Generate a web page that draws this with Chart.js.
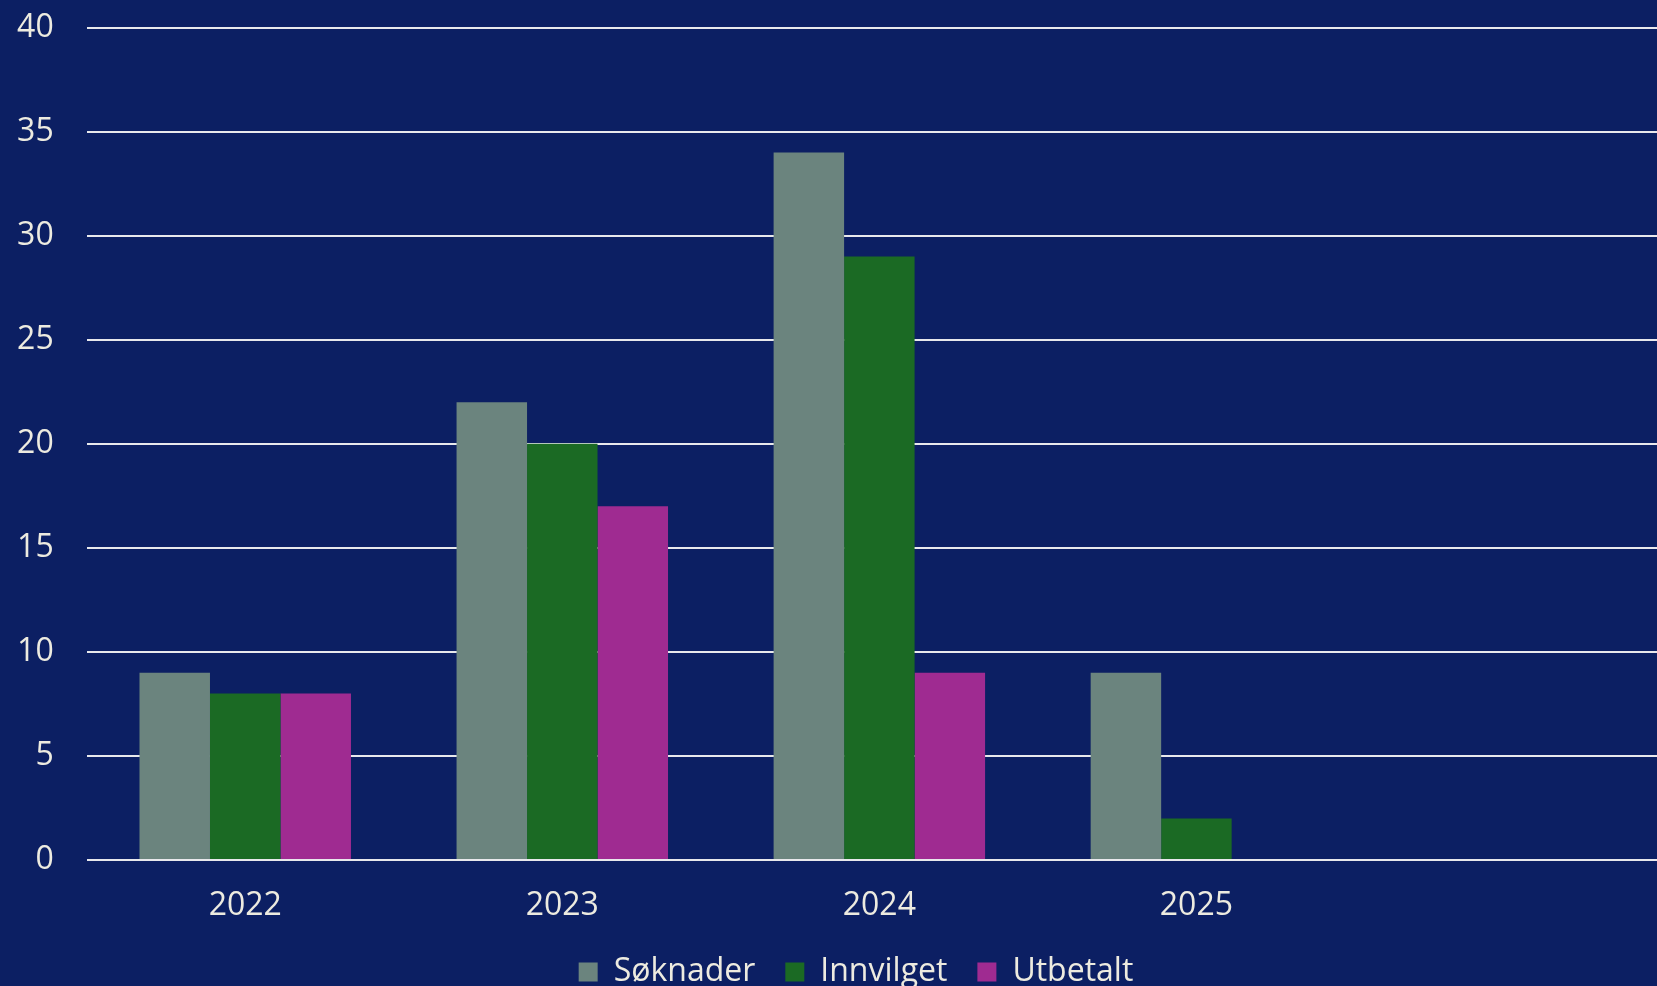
<!DOCTYPE html>
<html>
<head>
<meta charset="utf-8">
<script src="https://cdn.jsdelivr.net/npm/chart.js@4/dist/chart.umd.min.js"></script>
<style>
  html, body { margin: 0; padding: 0; background: #0c1f63; overflow: hidden; }
  #wrap { width: 1712px; height: 998px; }
</style>
</head>
<body>
<div id="wrap"><canvas id="mainChart" width="1712" height="998"></canvas></div>
<script>
// Data
const years = ["2022", "2023", "2024", "2025", ""];
const soknader = [9, 22, 34, 9, null];
const innvilget = [8, 20, 29, 2, null];
const utbetalt = [8, 17, 9, null, null];
const seriesNames = ["Søknader", "Innvilget", "Utbetalt"];

const colors = {
    bg: "#0c1f63",
    gray: "#6b847e",
    green: "#1b6a24",
    magenta: "#9f2b91",
    text: "#edebe0",
    grid: "#e8e8ec",
};

const FONT = "'Open Sans', sans-serif";

// small nudge so the legend sits where it does in the original
const legendNudge = {
    id: "legendNudge",
    afterLayout(chart) {
        const lg = chart.legend;
        if (lg) {
            lg.left += 11.5;
            lg.right += 11.5;
        }
    },
};

document.addEventListener("DOMContentLoaded", function () {
    const ctx = document.getElementById("mainChart").getContext("2d");

    new Chart(ctx, {
        type: "bar",
        data: {
            labels: years,
            datasets: [
                { label: seriesNames[0], data: soknader, backgroundColor: colors.gray },
                { label: seriesNames[1], data: innvilget, backgroundColor: colors.green },
                { label: seriesNames[2], data: utbetalt, backgroundColor: colors.magenta },
            ],
        },
        plugins: [legendNudge],
        options: {
            responsive: false,
            animation: false,
            layout: { padding: { top: 27.5, left: 17, right: 40, bottom: 0 } },
            datasets: {
                bar: { categoryPercentage: 0.667, barPercentage: 1, borderWidth: 0 },
            },
            plugins: {
                legend: {
                    position: "bottom",
                    labels: {
                        boxWidth: 19,
                        boxHeight: 19,
                        padding: 30,
                        color: colors.text,
                        font: { family: FONT, size: 32 },
                    },
                },
                tooltip: { enabled: false },
            },
            scales: {
                x: {
                    afterFit: function (scale) {
                        scale.height = 66;
                    },
                    grid: { display: false, drawTicks: false },
                    border: { display: false },
                    ticks: {
                        color: colors.text,
                        padding: 27,
                        font: { family: FONT, size: 32 },
                    },
                },
                y: {
                    min: 0,
                    max: 40,
                    afterFit: function (scale) {
                        scale.width = 69.7;
                        scale.paddingTop = 0;
                        scale.paddingBottom = 0;
                    },
                    grid: { color: colors.grid, lineWidth: 2, drawTicks: false },
                    border: { display: false },
                    ticks: {
                        stepSize: 5,
                        color: colors.text,
                        padding: 33,
                        font: { family: FONT, size: 32 },
                    },
                },
            },
        },
    });
});
</script>
</body>
</html>
